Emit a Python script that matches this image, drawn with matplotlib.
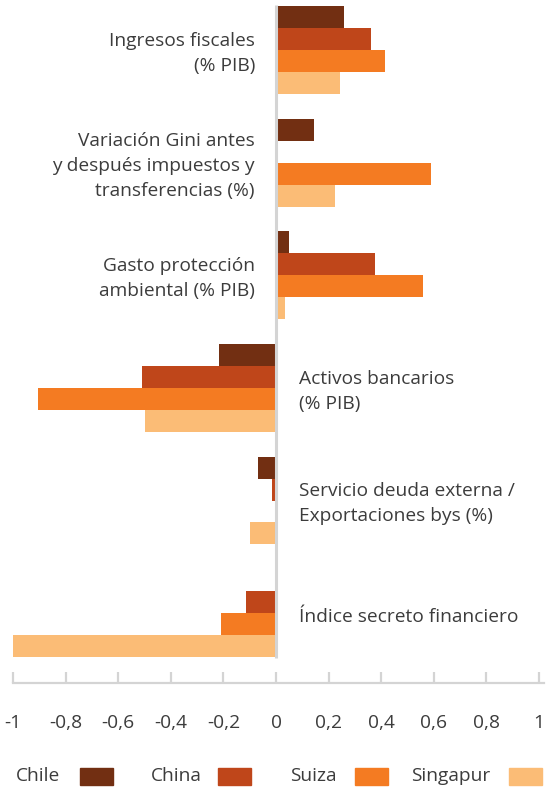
import matplotlib.pyplot as plt
from matplotlib.patches import Rectangle
import numpy as np

plt.rcParams['font.family'] = ['Open Sans', 'DejaVu Sans']

# datos
categorias = ['Ingresos fiscales\n(% PIB)',
              'Variación Gini antes\ny después impuestos y\ntransferencias (%)',
              'Gasto protección\nambiental (% PIB)',
              'Activos bancarios\n(% PIB)',
              'Servicio deuda externa /\nExportaciones bys (%)',
              'Índice secreto financiero']
paises = ['Chile', 'China', 'Suiza', 'Singapur']
chile = [0.26, 0.145, 0.05, -0.215, -0.067, 0.0]
china = [0.36, 0.0, 0.375, -0.51, -0.015, -0.115]
suiza = [0.415, 0.59, 0.56, -0.905, 0.0, -0.21]
singapur = [0.245, 0.225, 0.035, -0.50, -0.097, -1.0]
colores = ['#722f12', '#bf461a', '#f47b22', '#fbbc76']
ticks = [-1, -0.8, -0.6, -0.4, -0.2, 0, 0.2, 0.4, 0.6, 0.8, 1]

texto = '#3c3c3c'
gris = '#d4d4d4'
fs = 13.8

fig = plt.figure(figsize=(5.48, 7.91), dpi=100)
ax = fig.add_axes([13 / 548, 1 - 683 / 791, 526 / 548, 683 / 791])

pos = np.arange(len(categorias))
h = 0.195
series = [chile, china, suiza, singapur]
for i, (vals, col) in enumerate(zip(series, colores)):
    ax.barh(pos + (i - 1.5) * h, vals, height=h, color=col, label=paises[i], zorder=2)

# linea del cero
ax.vlines(0, -0.40, 5.40, color=gris, lw=2.2, zorder=3)

# etiquetas de categoria
for p, cat in zip(pos, categorias):
    neg = min(chile[p], china[p], suiza[p], singapur[p]) < 0
    if neg:
        ax.text(0.087, p + 0.03, cat, ha='left', va='center', fontsize=fs,
                color=texto, linespacing=1.5)
    else:
        ax.text(-0.08, p + 0.03, cat, ha='right', va='center', fontsize=fs,
                color=texto, linespacing=1.5, multialignment='right')

ax.set_xlim(-1, 1)
ax.set_ylim(5.62, -0.444)
for s in ['top', 'right', 'left']:
    ax.spines[s].set_visible(False)
ax.spines['bottom'].set_color(gris)
ax.spines['bottom'].set_linewidth(1.6)
ax.spines['bottom'].set_bounds(-1, 1.02)
ax.set_yticks([])
ax.set_xticks(ticks)
ax.set_xticklabels([('%g' % t).replace('.', ',') for t in ticks])
ax.tick_params(axis='x', direction='in', length=8, width=1.6, color=gris,
               pad=22, labelsize=fs, labelcolor=texto)
ax.patch.set_alpha(0)

# leyenda: texto y luego el cuadro de color
W, H = 548, 791
x_txt = [16, 151, 290, 411]
x_box = [80, 218, 355, 509]
y_leg = 776
for nombre, col, xt, xb in zip(paises, colores, x_txt, x_box):
    fig.text(xt / W, 1 - y_leg / H, nombre, ha='left', va='center', fontsize=fs,
             color=texto)
    fig.patches.append(Rectangle((xb / W, 1 - 785 / H), 33 / W, 17 / H,
                                 transform=fig.transFigure, color=col))

fig.savefig('out.png', dpi=100)
